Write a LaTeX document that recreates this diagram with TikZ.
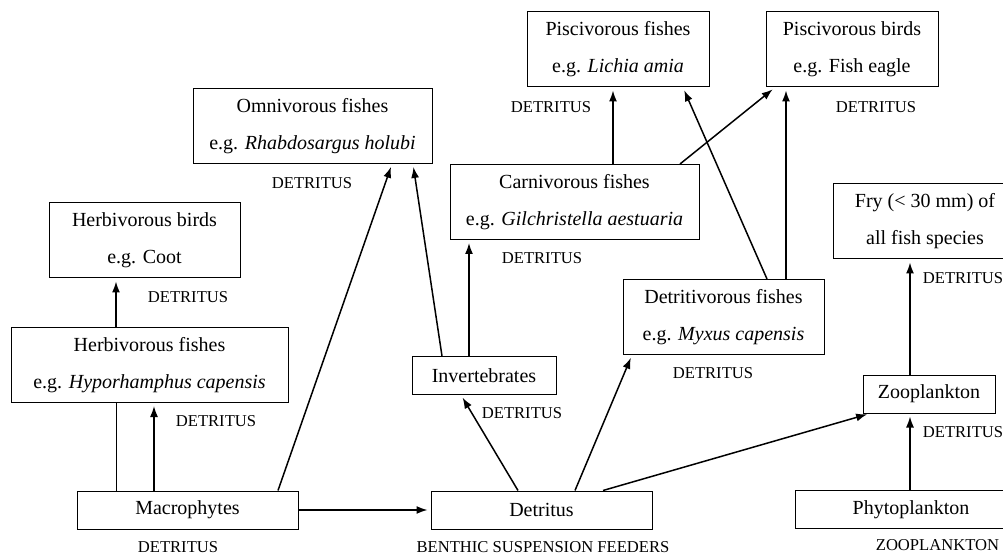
\documentclass[tikz,border=0pt]{standalone}
\usepackage{fontspec}
\setmainfont{Liberation Serif}
\usetikzlibrary{arrows.meta,calc}
\tikzset{
box/.style={rectangle, draw=black, line width=0.5pt, inner sep=0pt,
            align=center, font=\fontsize{10}{18.5}\selectfont},
twoline/.style={box, minimum height=37.5pt},
oneline/.style={box, minimum height=19pt},
tag/.style={inner sep=0pt, font=\fontsize{8.3}{10}\selectfont},
>={Latex[width=4pt,length=5.5pt]},
flow/.style={->, line width=0.75pt, shorten >=1.5pt},
link/.style={line width=0.5pt},
}

\begin{document}
\begin{tikzpicture}[x=0.5pt, y=0.5pt]
    \useasboundingbox (0,0) rectangle (1003,-556);

    \node[twoline, minimum width=91pt] (PISC_FISH) at(618, -49.5) {Piscivorous fishes\\e.g. \textit{Lichia amia}};
    \node[twoline, minimum width=86pt] (PISC_BIRD) at(852, -49.5) {Piscivorous birds\\e.g. Fish eagle};
    \node[twoline, minimum width=119.5pt] (OMNI_FISH) at(312.5, -126) {Omnivorous fishes\\e.g. \textit{Rhabdosargus holubi}};
    \node[twoline, minimum width=124.5pt] (CARN_FISH) at(574.5, -202) {Carnivorous fishes\\e.g. \textit{Gilchristella aestuaria}};
    \node[twoline, minimum width=95.5pt] (HERB_BIRD) at(144.5, -240.5) {Herbivorous birds\\e.g. Coot};
    \node[twoline, minimum width=92pt] (FRY) at(925, -221.5) {Fry (< 30 mm) of\\all fish species};
    \node[twoline, minimum width=100.5pt] (DETR_FISH) at(723.5, -317) {Detritivorous fishes\\e.g. \textit{Myxus capensis}};
    \node[twoline, minimum width=138.5pt] (HERB_FISH) at(149.5, -365) {Herbivorous fishes\\e.g. \textit{Hyporhamphus capensis}};

    \node[oneline, minimum width=72pt] (INVERT) at(484, -375.5) {Invertebrates};
    \node[oneline, minimum width=66pt] (ZOOPL) at(929, -394) {Zooplankton};
    \node[oneline, minimum width=110.5pt] (MACRO) at(187.5, -510) {Macrophytes};
    \node[oneline, minimum width=110.5pt] (DETRITUS) at(541.5, -510) {Detritus};
    \node[oneline, minimum width=116pt] (PHYTO) at(911, -509.5) {Phytoplankton};

    \node[tag] (TAG_0) at(551, -107) {DETRITUS};
    \node[tag] (TAG_1) at(876, -107) {DETRITUS};
    \node[tag] (TAG_2) at(312, -183) {DETRITUS};
    \node[tag] (TAG_3) at(542, -258) {DETRITUS};
    \node[tag] (TAG_4) at(188, -297) {DETRITUS};
    \node[tag] (TAG_5) at(963, -278) {DETRITUS};
    \node[tag] (TAG_6) at(713, -373) {DETRITUS};
    \node[tag] (TAG_7) at(522, -413) {DETRITUS};
    \node[tag] (TAG_8) at(216, -421) {DETRITUS};
    \node[tag] (TAG_9) at(963, -432) {DETRITUS};
    \node[tag] (TAG_10) at(178, -547) {DETRITUS};
    \node[tag] (TAG_11) at(543, -547) {BENTHIC SUSPENSION FEEDERS};
    \node[tag] (TAG_12) at(937.5, -545) {ZOOPLANKTON};

    \draw[flow] ($(HERB_FISH.north)+(-33.5,0)$) to ($(HERB_BIRD.south)+(-28.5,0)$);
    \draw[link] ($(MACRO.north)+(-71.5,0)$) to ($(HERB_FISH.south)+(-33.5,0)$);
    \draw[flow] ($(MACRO.north)+(-33.5,0)$) to ($(HERB_FISH.south)+(4.5,0)$);
    \draw[flow] ($(MACRO.north)+(90.5,0)$) to ($(OMNI_FISH.south)+(79.5,0)$);
    \draw[flow] (MACRO.east) to (DETRITUS.west);

    \draw[flow] ($(INVERT.north)+(-42,0)$) to ($(OMNI_FISH.south)+(100.5,0)$);
    \draw[flow] ($(INVERT.north)+(-15,0)$) to ($(CARN_FISH.south)+(-105.5,0)$);

    \draw[flow] ($(DETRITUS.north)+(-23.5,0)$) to ($(INVERT.south)+(-23,0)$);
    \draw[flow] ($(DETRITUS.north)+(33.5,0)$) to ($(DETR_FISH.south)+(-91.5,0)$);
    \draw[flow] ($(DETRITUS.north)+(61.5,0)$) to ($(ZOOPL.south)+(-59,0)$);

    \draw[flow] ($(PHYTO.north)+(-1,0)$) to ($(ZOOPL.south)+(-19,0)$);
    \draw[flow] ($(ZOOPL.north)+(-19,0)$) to ($(FRY.south)+(-15,0)$);

    \draw[flow] ($(CARN_FISH.north)+(38.5,0)$) to ($(PISC_FISH.south)+(-5,0)$);
    \draw[flow] ($(CARN_FISH.north)+(105.5,0)$) to ($(PISC_BIRD.south)+(-77,0)$);
    \draw[flow] ($(DETR_FISH.north)+(43.5,0)$) to ($(PISC_FISH.south)+(65,0)$);
    \draw[flow] ($(DETR_FISH.north)+(62.5,0)$) to ($(PISC_BIRD.south)+(-66,0)$);
\end{tikzpicture}
\end{document}
